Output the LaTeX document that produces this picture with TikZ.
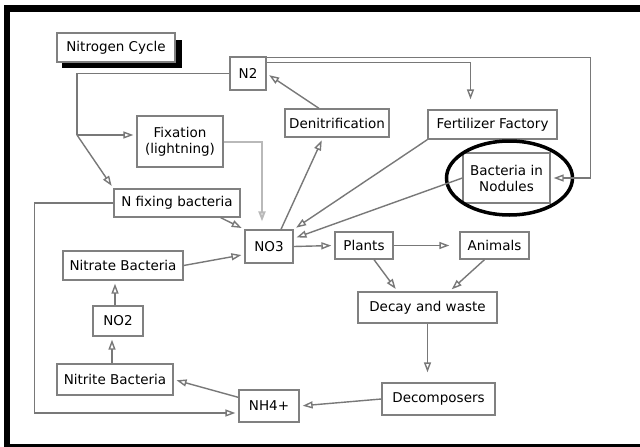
\documentclass[tikz,border=0pt]{standalone}
\usepackage{fontspec}
\setmainfont{DejaVu Sans}
\usetikzlibrary{arrows.meta}
\begin{document}
\begin{tikzpicture}[x=1pt,y=-1pt,
    box/.style={shape=rectangle,draw=boxgray,line width=1.3pt,fill=white,inner sep=1pt,align=center,font=\fontsize{13.5}{16}\selectfont},
    conn/.style={draw=linegray,line width=1.4pt,shorten >=3pt,-{Triangle[open,length=10pt,width=7pt]}},
    plain/.style={draw=linegray,line width=1.4pt}]
    \definecolor{boxgray}{RGB}{128,128,128}
    \definecolor{linegray}{RGB}{120,120,120}
    \useasboundingbox (0,0) rectangle (640,447);
    \fill[white] (0,0) rectangle (640,447);
    % frame
    \fill[black] (4,5) rectangle (640,12);
    \fill[black] (4,5) rectangle (10,447);
    \fill[black] (4,444) rectangle (640,447);
    % title with shadow
    \fill[black] (62,40) rectangle (182,68);
    \node[box,minimum width=118,minimum height=29] (title) at (116,47.5) {Nitrogen Cycle};
    % nodes
    \node[box,minimum width=36,minimum height=33] (n2) at (248,73.5) {N2};
    \node[box,minimum width=104,minimum height=28] (denit) at (337,123) {Denitrification};
    \node[box,minimum width=129,minimum height=29] (fert) at (492.5,124.5) {Fertilizer Factory};
    \node[box,minimum width=86,minimum height=51] (fix) at (180,141.5) {Fixation\\(lightning)};
    \node[box,minimum width=87,minimum height=50] (nod) at (506.5,178) {Bacteria in\\Nodules};
    \node[box,minimum width=126,minimum height=28] (nfix) at (177,203) {N fixing bacteria};
    \node[box,minimum width=48,minimum height=33] (no3) at (269,246.5) {NO3};
    \node[box,minimum width=58,minimum height=27] (plants) at (364,245.5) {Plants};
    \node[box,minimum width=69,minimum height=27] (animals) at (494.5,245.5) {Animals};
    \node[box,minimum width=120,minimum height=29] (nitrate) at (123,265.5) {Nitrate Bacteria};
    \node[box,minimum width=50,minimum height=30] (no2) at (118,321) {NO2};
    \node[box,minimum width=139,minimum height=31] (decay) at (427.5,307.5) {Decay and waste};
    \node[box,minimum width=116,minimum height=31] (nitrite) at (115,379.5) {Nitrite Bacteria};
    \node[box,minimum width=60,minimum height=32] (nh4) at (269,406) {NH4+};
    \node[box,minimum width=113,minimum height=32] (decomp) at (438.5,399) {Decomposers};
    \draw[line width=3.5pt] ([xshift=3pt]nod.center) ellipse (63pt and 37pt);
    % connectors
    \coordinate (fork) at (77,135);
    \draw[plain] (n2.west) -| (fork);
    \draw[conn] (fork) -- (fork -| fix.west);
    \draw[conn] (fork) -- (nfix.north west);
    \draw[conn] ([yshift=-1pt]n2.north east) -- ++(324,0) |- (nod.east);
    \draw[conn,shorten >=10pt] ([yshift=-6pt]n2.north east) -| ([xshift=-22pt]fert.north);
    \draw[conn] ([xshift=-18pt]denit.north) -- (n2.east);
    \draw[conn] ([xshift=12pt]no3.north) -- ([xshift=-14pt]denit.south);
    \draw[conn,draw=gray!55,line width=2pt,shorten >=8pt] (fix.east) -| ([xshift=-7pt]no3.north);
    \draw[conn] ([xshift=-20pt]nfix.south east) -- (no3.north west);
    \draw[conn] (fert.south west) -- (no3.north east);
    \draw[conn] (nod.west) -- ([yshift=8pt]no3.east);
    \draw[conn] (no3.east) -- (plants.west);
    \draw[conn,shorten >=10pt] (plants.east) -- (animals.west);
    \draw[conn] ([xshift=10pt]plants.south) -- ([xshift=-30pt]decay.north);
    \draw[conn] ([xshift=-10pt]animals.south) -- ([xshift=22pt]decay.north);
    \draw[conn,shorten >=10pt] (decay.south) -- (decay.south |- decomp.north);
    \draw[conn] (decomp.west) -- (nh4.east);
    \draw[conn] ([yshift=-8pt]nh4.north west) -- (nitrite.east);
    \draw[conn] ([xshift=-6pt]no2.south |- nitrite.north) -- ([xshift=-6pt]no2.south);
    \draw[conn] ([xshift=-3pt]no2.north) -- ([xshift=-3pt]no2.north |- nitrate.south);
    \draw[conn] (nitrate.east) -- ([yshift=-8pt]no3.west);
    \draw[conn] (nfix.west) -- ++(-79,0) |- ([yshift=-7pt]nh4.west);
\end{tikzpicture}
\end{document}
